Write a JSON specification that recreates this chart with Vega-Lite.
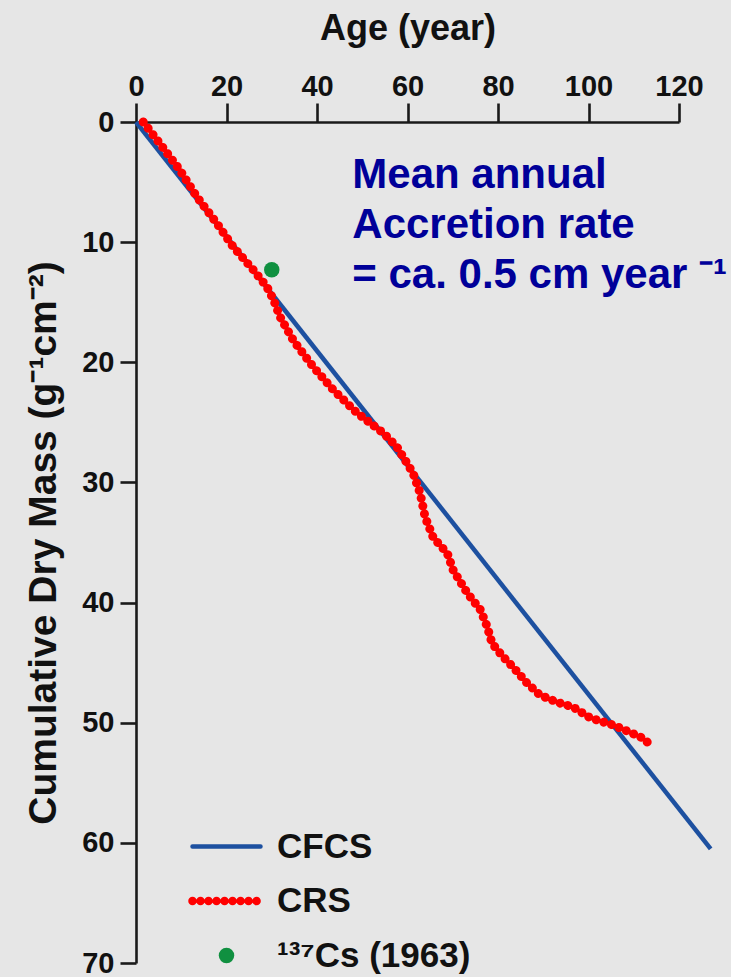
{
  "$schema": "https://vega.github.io/schema/vega-lite/v6.json",
  "width": 543,
  "height": 841,
  "autosize": {"type": "none"},
  "padding": {"left": 136, "top": 122, "right": 52, "bottom": 14},
  "background": "#e6e6e6",
  "config": {
    "view": {"stroke": null},
    "font": "Liberation Sans",
    "axis": {
      "grid": false,
      "labelFlush": false,
      "labelOverlap": false,
      "domainColor": "#1a1a1a",
      "domainWidth": 2.6,
      "tickColor": "#1a1a1a",
      "tickWidth": 2.6,
      "labelFont": "Liberation Sans",
      "labelFontWeight": "bold",
      "labelFontSize": 29,
      "labelColor": "#111111",
      "titleFont": "Liberation Sans",
      "titleFontWeight": "bold",
      "titleColor": "#111111"
    }
  },
  "datasets": {
    "series": [
      {"series": "CFCS", "age": 0, "mass": 0},
      {"series": "CFCS", "age": 127, "mass": 60.5},
      {"series": "CRS", "age": 1.6, "mass": 0},
      {"series": "CRS", "age": 5.3, "mass": 1.8},
      {"series": "CRS", "age": 9.7, "mass": 4.0},
      {"series": "CRS", "age": 13.4, "mass": 6.2},
      {"series": "CRS", "age": 17.8, "mass": 8.4},
      {"series": "CRS", "age": 21.5, "mass": 10.4},
      {"series": "CRS", "age": 25.9, "mass": 12.3},
      {"series": "CRS", "age": 28.9, "mass": 13.7},
      {"series": "CRS", "age": 30.4, "mass": 14.8},
      {"series": "CRS", "age": 31.8, "mass": 16.2},
      {"series": "CRS", "age": 34.8, "mass": 18.2},
      {"series": "CRS", "age": 39.2, "mass": 20.4},
      {"series": "CRS", "age": 43.6, "mass": 22.3},
      {"series": "CRS", "age": 48.8, "mass": 24.2},
      {"series": "CRS", "age": 54.7, "mass": 25.9},
      {"series": "CRS", "age": 57.6, "mass": 27.0},
      {"series": "CRS", "age": 61.2, "mass": 29.2},
      {"series": "CRS", "age": 62.8, "mass": 30.9},
      {"series": "CRS", "age": 63.9, "mass": 32.9},
      {"series": "CRS", "age": 65.7, "mass": 34.6},
      {"series": "CRS", "age": 68.8, "mass": 35.9},
      {"series": "CRS", "age": 70.1, "mass": 37.3},
      {"series": "CRS", "age": 73.2, "mass": 39.2},
      {"series": "CRS", "age": 76.1, "mass": 40.6},
      {"series": "CRS", "age": 77.6, "mass": 42.0},
      {"series": "CRS", "age": 78.7, "mass": 43.4},
      {"series": "CRS", "age": 81.1, "mass": 44.5},
      {"series": "CRS", "age": 83.4, "mass": 45.4},
      {"series": "CRS", "age": 86.4, "mass": 46.7},
      {"series": "CRS", "age": 89.3, "mass": 47.7},
      {"series": "CRS", "age": 93.1, "mass": 48.3},
      {"series": "CRS", "age": 96.6, "mass": 48.7},
      {"series": "CRS", "age": 100.4, "mass": 49.6},
      {"series": "CRS", "age": 105.5, "mass": 50.2},
      {"series": "CRS", "age": 109.2, "mass": 50.8},
      {"series": "CRS", "age": 112.1, "mass": 51.3},
      {"series": "CRS", "age": 114.1, "mass": 52.0},
      {"series": "¹³⁷Cs (1963)", "age": 30.0, "mass": 12.3}
    ],
    "note": [
      {"label": "Mean annual accretion rate"}
    ]
  },
  "layer": [
    {
      "data": {"name": "series"},
      "encoding": {
        "x": {
          "field": "age",
          "type": "quantitative",
          "scale": {"domain": [0, 120], "nice": false, "zero": false},
          "axis": {
            "orient": "top",
            "values": [0, 20, 40, 60, 80, 100, 120],
            "tickSize": 19,
            "labelPadding": 2,
            "labelFlush": false,
            "title": "Age (year)",
            "titleFontSize": 36,
            "titlePadding": 25
          }
        },
        "y": {
          "field": "mass",
          "type": "quantitative",
          "scale": {"domain": [0, 70], "nice": false, "reverse": true},
          "axis": {
            "values": [0, 10, 20, 30, 40, 50, 60, 70],
            "tickSize": 16,
            "labelPadding": 6,
            "labelFlush": false,
            "title": "Cumulative Dry Mass (g⁻¹cm⁻²)",
            "titleFontSize": 39,
            "titlePadding": 18
          }
        },
        "color": {
          "field": "series",
          "type": "nominal",
          "scale": {
            "domain": ["CFCS", "CRS", "¹³⁷Cs (1963)"],
            "range": ["#1d50a0", "#ff0000", "#109040"]
          },
          "legend": {
            "title": null,
            "orient": "none",
            "legendX": 73,
            "legendY": 707,
            "padding": 0,
            "symbolType": "stroke",
            "symbolSize": 4624,
            "symbolStrokeWidth": 4.5,
            "labelFont": "Liberation Sans",
            "labelFontWeight": "bold",
            "labelFontSize": 35,
            "labelColor": "#111111",
            "labelOffset": 33,
            "labelLimit": 0,
            "rowPadding": 18.5,
            "encode": {
              "symbols": {
                "update": {
                  "shape": {"signal": "datum.value === '¹³⁷Cs (1963)' ? 'circle' : 'stroke'"},
                  "size": {"signal": "datum.value === '¹³⁷Cs (1963)' ? 240 : 4624"},
                  "fill": {"signal": "datum.value === '¹³⁷Cs (1963)' ? '#109040' : 'transparent'"},
                  "stroke": {"signal": "datum.value === 'CFCS' ? '#1d50a0' : datum.value === 'CRS' ? '#ff0000' : 'transparent'"},
                  "strokeWidth": {"signal": "datum.value === 'CRS' ? 8.5 : datum.value === 'CFCS' ? 4.5 : 0"},
                  "strokeDash": {"signal": "datum.value === 'CRS' ? [0.01, 8] : [1, 0]"},
                  "strokeCap": {"value": "round"},
                  "opacity": {"value": 1}
                }
              }
            }
          }
        }
      },
      "layer": [
        {
          "transform": [{"filter": "datum.series === 'CFCS'"}],
          "mark": {"type": "line", "strokeWidth": 4.5, "clip": false}
        },
        {
          "transform": [{"filter": "datum.series === 'CRS'"}],
          "mark": {"type": "line", "strokeWidth": 9, "strokeDash": [0.01, 8], "strokeCap": "round", "clip": false}
        },
        {
          "transform": [{"filter": "datum.series === '¹³⁷Cs (1963)'"}],
          "mark": {"type": "point", "filled": true, "size": 240, "opacity": 1}
        }
      ]
    },
    {
      "data": {"name": "note"},
      "mark": {
        "type": "text",
        "text": ["Mean annual", "Accretion rate", "= ca. 0.5 cm year ⁻¹"],
        "align": "left",
        "baseline": "alphabetic",
        "font": "Liberation Sans",
        "fontWeight": "bold",
        "fontSize": 42,
        "lineHeight": 50,
        "fill": "#000099"
      },
      "encoding": {
        "x": {"datum": 47.8, "type": "quantitative"},
        "y": {"datum": 5.5, "type": "quantitative"}
      }
    }
  ]
}
